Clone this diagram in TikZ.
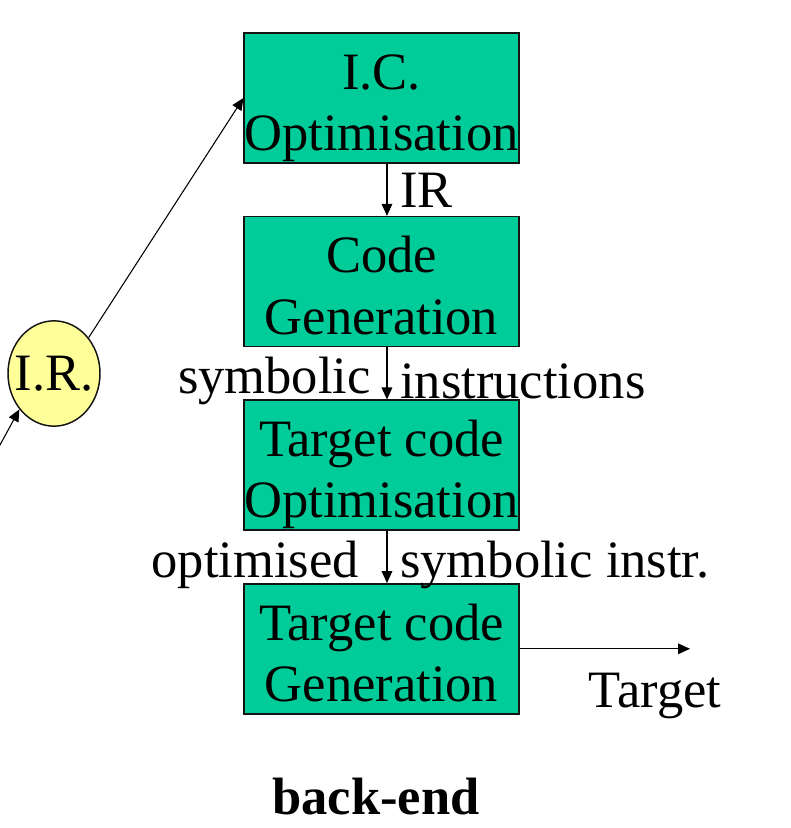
\documentclass[tikz,border=0pt]{standalone}
\usepackage{fontspec}
\setmainfont{Liberation Serif}
\usetikzlibrary{arrows.meta,positioning,shapes.geometric}
\definecolor{stage}{RGB}{0,204,153}
\definecolor{lemon}{RGB}{255,255,153}
\definecolor{ink}{RGB}{20,20,20}
\tikzset{
  >={Triangle[length=9pt,width=8pt]},
  phase/.style={draw=ink,fill=stage,line width=1.1pt,minimum width=206pt,
    minimum height=97.5pt,inner sep=0pt,align=center,
    text height=79pt,text depth=0pt,
    font=\fontsize{39.4}{46}\selectfont},
  flow/.style={->,line width=0.8pt,draw=black},
  tag/.style={font=\fontsize{39.4}{46}\selectfont,inner sep=0pt},
}
\begin{document}
\begin{tikzpicture}[x=0.75pt,y=-0.75pt,node distance=39.1pt]
  \useasboundingbox (0,0) rectangle (790,828);
  % the back-end stages
  \node[phase] (icopt) at (381.5,98) {I.C.\\Optimisation};
  \node[phase,below=of icopt] (codegen) {Code\\Generation};
  \node[phase,below=of codegen] (tcopt) {Target code\\Optimisation};
  \node[phase,below=of tcopt] (tcgen) {Target code\\Generation};
  % intermediate representation
  \node[ellipse,draw=ink,fill=lemon,line width=1.1pt,minimum width=69pt,
    minimum height=79pt,inner sep=0pt,font=\fontsize{39.4}{46}\selectfont] (ir) at (54,373.5) {\makebox[0pt]{I.R.}};
  \coordinate (frontend) at (-6,456);
  \coordinate (out) at (690,648);
  \draw[flow] (frontend) -- (ir.-134);
  \draw[flow] (ir.46) -- (icopt.west);
  \draw[flow] ([xshift=4.1pt]icopt.south) -- ([xshift=4.1pt]codegen.north);
  \draw[flow] ([xshift=4.1pt]codegen.south) -- ([xshift=4.1pt]tcopt.north);
  \draw[flow] ([xshift=4.1pt]tcopt.south) -- ([xshift=4.1pt]tcgen.north);
  \draw[flow] (tcgen.east) -- (tcgen.east -| out);
  % labels
  \node[tag,anchor=west] (irtag) at (400,190) {IR};
  \node[tag,anchor=east] (symtag) at (371,381) {symbolic};
  \node[tag,anchor=west] (instrtag) at (400,381) {instructions};
  \node[tag,anchor=east] (opttag) at (359,565) {optimised};
  \node[tag,anchor=west] (symitag) at (400,565) {symbolic instr.};
  \node[tag] (targettag) at (655,696) {Target};
  \node[tag,font=\fontsize{39.4}{46}\selectfont\bfseries] (backend) at (376,797) {back-end};
\end{tikzpicture}
\end{document}
